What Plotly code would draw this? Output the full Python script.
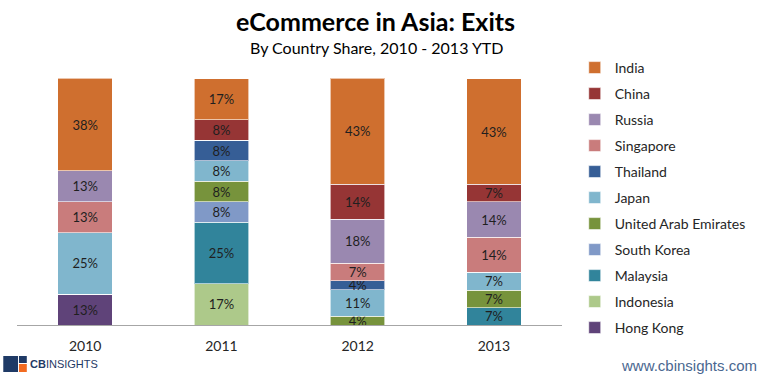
import plotly.graph_objects as go

years = ["2010", "2011", "2012", "2013"]

# Stacking order: bottom to top
countries = ["Hong Kong", "Indonesia", "Malaysia", "South Korea", "United Arab Emirates",
             "Japan", "Thailand", "Singapore", "Russia", "China", "India"]

# Share of exits (%) per year
hong_kong   = [12.5, 0, 0, 0]
indonesia   = [0, 16.7, 0, 0]
malaysia    = [0, 25.0, 0, 7.1]
south_korea = [0, 8.3, 0, 0]
uae         = [0, 8.3, 3.6, 7.1]
japan       = [25.0, 8.3, 10.7, 7.1]
thailand    = [0, 8.3, 3.6, 0]
singapore   = [12.5, 0, 7.1, 14.3]
russia      = [12.5, 0, 17.9, 14.3]
china       = [0, 8.3, 14.3, 7.1]
india       = [37.5, 16.7, 42.9, 42.9]

series = [hong_kong, indonesia, malaysia, south_korea, uae, japan,
          thailand, singapore, russia, china, india]

colors = ["#5F4379", "#ADC98A", "#31849B", "#8099C7", "#77933C",
          "#80B6CD", "#365E96", "#C97C7C", "#9A88B0", "#963535", "#CF6F2F"]

W, H = 763, 374
L, R, T, B = 17, 573, 78, 325
FONT = "Lato, Open Sans, sans-serif"

fig = go.Figure()
n = len(countries)
for i, (name, vals, col) in enumerate(zip(countries, series, colors)):
    txt = [f"{int(v + 0.5)}%" if v > 0 else "" for v in vals]
    fig.add_trace(go.Bar(
        x=years, y=vals, name=name, legendgroup=name, legendrank=n - i,
        marker=dict(color=col, line=dict(color="rgba(255,255,255,0.6)", width=1)),
        text=txt, textposition="inside", insidetextanchor="middle",
        textangle=0, constraintext="none",
        textfont=dict(family=FONT, size=13, color="#1f1f1f"),
        hoverinfo="skip",
    ))

fig.update_layout(
    width=W, height=H,
    barmode="stack", bargap=0.6,
    plot_bgcolor="white", paper_bgcolor="white",
    margin=dict(l=L, r=W - R, t=T, b=H - B, pad=0),
    uniformtext=dict(minsize=13, mode="show"),
    xaxis=dict(showline=True, linecolor="#A6A6A6", linewidth=1,
               ticks="", ticklabelstandoff=8,
               tickfont=dict(family=FONT, size=14, color="#262626"),
               fixedrange=True),
    yaxis=dict(range=[0, 100.2], visible=False, showgrid=False, fixedrange=True),
    legend=dict(x=(586 - L) / (R - L), xanchor="left",
                y=(B - 52) / (B - T), yanchor="top",
                traceorder="grouped", tracegroupgap=4.8,
                maxheight=340,
                font=dict(family=FONT, size=14, color="#262626"),
                itemwidth=30, bgcolor="rgba(0,0,0,0)"),
    showlegend=True,
)

def px_x(px):
    return (px - L) / (R - L)

def px_y(py):
    return (B - py) / (B - T)

fig.add_annotation(text="<b>eCommerce in Asia: Exits</b>", xref="paper", yref="paper",
                   x=px_x(383), y=px_y(21), showarrow=False, xanchor="center", yanchor="middle",
                   font=dict(family=FONT, size=25, color="#000000"))
fig.add_annotation(text="By Country Share, 2010 - 2013 YTD", xref="paper", yref="paper",
                   x=px_x(384), y=px_y(47), showarrow=False, xanchor="center", yanchor="middle",
                   font=dict(family=FONT, size=16, color="#000000"))
fig.add_annotation(text="www.cbinsights.com", xref="paper", yref="paper",
                   x=px_x(631), y=px_y(365), showarrow=False, xanchor="left", yanchor="middle",
                   font=dict(family="Liberation Sans, Arial, sans-serif", size=15, color="#4A6790"))
fig.add_annotation(text="<b>CB</b>INSIGHTS", xref="paper", yref="paper",
                   x=px_x(28), y=px_y(364), showarrow=False, xanchor="left", yanchor="middle",
                   font=dict(family="Liberation Sans, Arial, sans-serif", size=11, color="#1F3A66"))

# logo blocks
def rect(x0, y0, x1, y1, col):
    fig.add_shape(type="rect", xref="paper", yref="paper",
                  x0=px_x(x0), x1=px_x(x1), y0=px_y(y1), y1=px_y(y0),
                  fillcolor=col, line=dict(width=0), layer="above")

rect(3, 356, 18, 372, "#1F3A66")
rect(19, 356, 27, 363, "#1F3A66")
rect(19, 364, 27, 372, "#F26B21")

fig.write_html("out.html", config={"displayModeBar": False},
               post_script="document.body.style.margin='0';")
